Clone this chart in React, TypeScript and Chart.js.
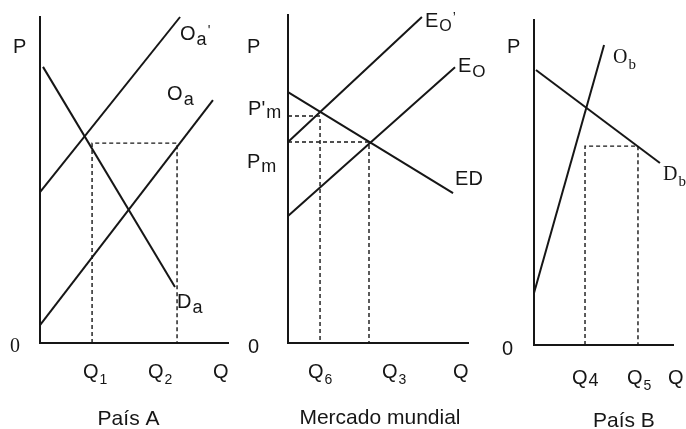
import React, { useEffect, useRef } from "react";
import { Chart, registerables } from "chart.js";
Chart.register(...registerables);

type Pt = { x: number; y: number };
type Lbl = {
  main: string; sub?: string; tail?: string; x: number; y: number;
  serif?: boolean; subSize?: number; subDrop?: number; title?: boolean;
};

// ---------- Panel A: País A (Q 0..10, P 0..10) ----------
const aDemand: Pt[] = [{ x: 0.16, y: 8.47 }, { x: 7.18, y: 1.72 }];
const aSupplyPrime: Pt[] = [{ x: 0, y: 4.63 }, { x: 7.45, y: 10.0 }];
const aSupply: Pt[] = [{ x: 0, y: 0.55 }, { x: 9.2, y: 7.45 }];
const aQ1 = 2.77;
const aQ2 = 7.29;
const aPrice = 6.13;
const aLabels: Lbl[] = [
  { main: "P", x: -1.44, y: 8.9 },
  { main: "0", x: -1.6, y: -0.28, serif: true },
  { main: "Q", sub: "1", x: 2.29, y: -1.07 },
  { main: "Q", sub: "2", x: 5.74, y: -1.07 },
  { main: "Q", x: 9.2, y: -1.07 },
  { main: "O", sub: "a", tail: "'", x: 7.45, y: 9.29, subSize: 18, subDrop: 5 },
  { main: "O", sub: "a", x: 6.76, y: 7.45, subSize: 18, subDrop: 5 },
  { main: "D", sub: "a", x: 7.29, y: 1.07, subSize: 18, subDrop: 5 },
  { main: "País A", x: 4.71, y: -2.52, title: true },
];

// ---------- Panel B: Mercado mundial ----------
const bExcessDemand: Pt[] = [{ x: 0, y: 7.65 }, { x: 9.17, y: 4.57 }];
const bExcessSupplyPrime: Pt[] = [{ x: 0, y: 6.13 }, { x: 7.44, y: 9.94 }];
const bExcessSupply: Pt[] = [{ x: 0, y: 3.87 }, { x: 9.28, y: 8.41 }];
const bPmPrime = 6.92;
const bQ6 = 1.78;
const bPm = 6.13;
const bQ3 = 4.5;
const bLabels: Lbl[] = [
  { main: "P", x: -2.28, y: 8.84 },
  { main: "P'", sub: "m", x: -2.22, y: 6.95, subSize: 18, subDrop: 3 },
  { main: "P", sub: "m", x: -2.28, y: 5.34, subSize: 18, subDrop: 4 },
  { main: "0", x: -2.22, y: -0.3 },
  { main: "Q", sub: "6", x: 1.11, y: -1.07 },
  { main: "Q", sub: "3", x: 5.22, y: -1.07 },
  { main: "Q", x: 9.17, y: -1.07 },
  { main: "E", sub: "O", tail: "’", x: 7.61, y: 9.63, subSize: 16, subDrop: 4 },
  { main: "E", sub: "O", x: 9.44, y: 8.26, subSize: 17, subDrop: 5 },
  { main: "ED", x: 9.28, y: 4.82 },
  { main: "Mercado mundial", x: 5.11, y: -2.47, title: true },
];

// ---------- Panel C: País B ----------
const cDemand: Pt[] = [{ x: 0.14, y: 8.46 }, { x: 9.06, y: 5.6 }];
const cSupply: Pt[] = [{ x: 0, y: 1.6 }, { x: 5.04, y: 9.23 }];
const cQ4 = 3.67;
const cQ5 = 7.48;
const cPrice = 6.12;
const cLabels: Lbl[] = [
  { main: "P", x: -1.94, y: 8.98 },
  { main: "0", x: -2.3, y: -0.31 },
  { main: "Q", sub: "4", x: 2.73, y: -1.2, subSize: 18, subDrop: 2 },
  { main: "Q", sub: "5", x: 6.69, y: -1.2 },
  { main: "Q", x: 9.64, y: -1.2 },
  { main: "O", sub: "b", x: 5.68, y: 8.68, serif: true, subSize: 15 },
  { main: "D", sub: "b", x: 9.28, y: 5.08, serif: true, subSize: 15 },
  { main: "País B", x: 6.47, y: -2.52, title: true },
];

// ---------- styling ----------
const INK = "#161616";
const SANS = '"Liberation Sans", Arial, sans-serif';
const SERIF = '"Liberation Serif", "Times New Roman", serif';
const MAIN = 20;
const SUB = 14;
const TITLE = 21;

const solid = (data: Pt[]) => ({
  data, showLine: true, pointRadius: 0, borderColor: INK, borderWidth: 2, clip: false as any,
});
const dashed = (data: Pt[]) => ({
  data, showLine: true, pointRadius: 0, borderColor: INK, borderWidth: 1.4,
  borderDash: [4, 3], clip: false as any,
});

const labelPlugin = (labels: Lbl[]) => ({
  id: "labels",
  afterDraw(chart: any) {
    const { ctx } = chart;
    const xs = chart.scales.x, ys = chart.scales.y;
    ctx.save();
    ctx.fillStyle = INK;
    ctx.textBaseline = "alphabetic";
    ctx.textAlign = "left";
    for (const l of labels) {
      let px = xs.getPixelForValue(l.x);
      const py = ys.getPixelForValue(l.y);
      const fam = l.serif ? SERIF : SANS;
      const size = l.title ? TITLE : MAIN;
      ctx.font = `${size}px ${fam}`;
      const w = ctx.measureText(l.main).width;
      if (l.title) px -= w / 2;
      ctx.fillText(l.main, px, py);
      px += w;
      if (l.sub) {
        const ss = l.subSize ?? SUB;
        ctx.font = `${ss}px ${fam}`;
        ctx.fillText(l.sub, px + 1, py + (l.subDrop ?? 6));
        px += ctx.measureText(l.sub).width + 1;
      }
      if (l.tail) {
        ctx.font = `${SUB}px ${fam}`;
        ctx.fillText(l.tail, px + 1, py - 5);
      }
    }
    ctx.restore();
  },
});

type PanelProps = {
  left: number; width: number;
  padding: { left: number; right: number; top: number; bottom: number };
  datasets: any[]; labels: Lbl[];
};

function Panel({ left, width, padding, datasets, labels }: PanelProps) {
  const ref = useRef<HTMLCanvasElement>(null);
  useEffect(() => {
    if (!ref.current) return;
    const axis = (min: number, max: number) => ({
      type: "linear" as const, min, max,
      grid: { display: false, drawTicks: false },
      ticks: { display: false },
      border: { display: true, color: INK, width: 2 },
    });
    const chart = new Chart(ref.current, {
      type: "scatter",
      data: { datasets },
      options: {
        responsive: false,
        animation: false,
        devicePixelRatio: 1,
        layout: { padding },
        plugins: { legend: { display: false }, tooltip: { enabled: false } },
        scales: { x: axis(0, 10), y: axis(0, 10) },
      },
      plugins: [labelPlugin(labels)],
    });
    return () => chart.destroy();
  }, []);
  return (
    <canvas
      ref={ref}
      width={width}
      height={429}
      style={{ position: "absolute", left, top: 0, width, height: 429 }}
    />
  );
}

export default function App() {
  const aSets = [
    solid(aDemand), solid(aSupplyPrime), solid(aSupply),
    dashed([{ x: aQ1, y: 0 }, { x: aQ1, y: aPrice }, { x: aQ2, y: aPrice }, { x: aQ2, y: 0 }]),
  ];
  const bSets = [
    solid(bExcessDemand), solid(bExcessSupplyPrime), solid(bExcessSupply),
    dashed([{ x: 0, y: bPmPrime }, { x: bQ6, y: bPmPrime }, { x: bQ6, y: 0 }]),
    dashed([{ x: 0, y: bPm }, { x: bQ3, y: bPm }, { x: bQ3, y: 0 }]),
  ];
  const cSets = [
    solid(cDemand), solid(cSupply),
    dashed([{ x: cQ4, y: 0 }, { x: cQ4, y: cPrice }, { x: cQ5, y: cPrice }, { x: cQ5, y: 0 }]),
  ];
  return (
    <div style={{ position: "fixed", left: 0, top: 0, width: 686, height: 429, background: "#fff", overflow: "hidden" }}>
      <Panel left={0} width={235} padding={{ left: 40, right: 7, top: 17, bottom: 86 }} datasets={aSets} labels={aLabels} />
      <Panel left={235} width={260} padding={{ left: 53, right: 27, top: 15, bottom: 86 }} datasets={bSets} labels={bLabels} />
      <Panel left={490} width={196} padding={{ left: 44, right: 13, top: 20, bottom: 84 }} datasets={cSets} labels={cLabels} />
    </div>
  );
}
